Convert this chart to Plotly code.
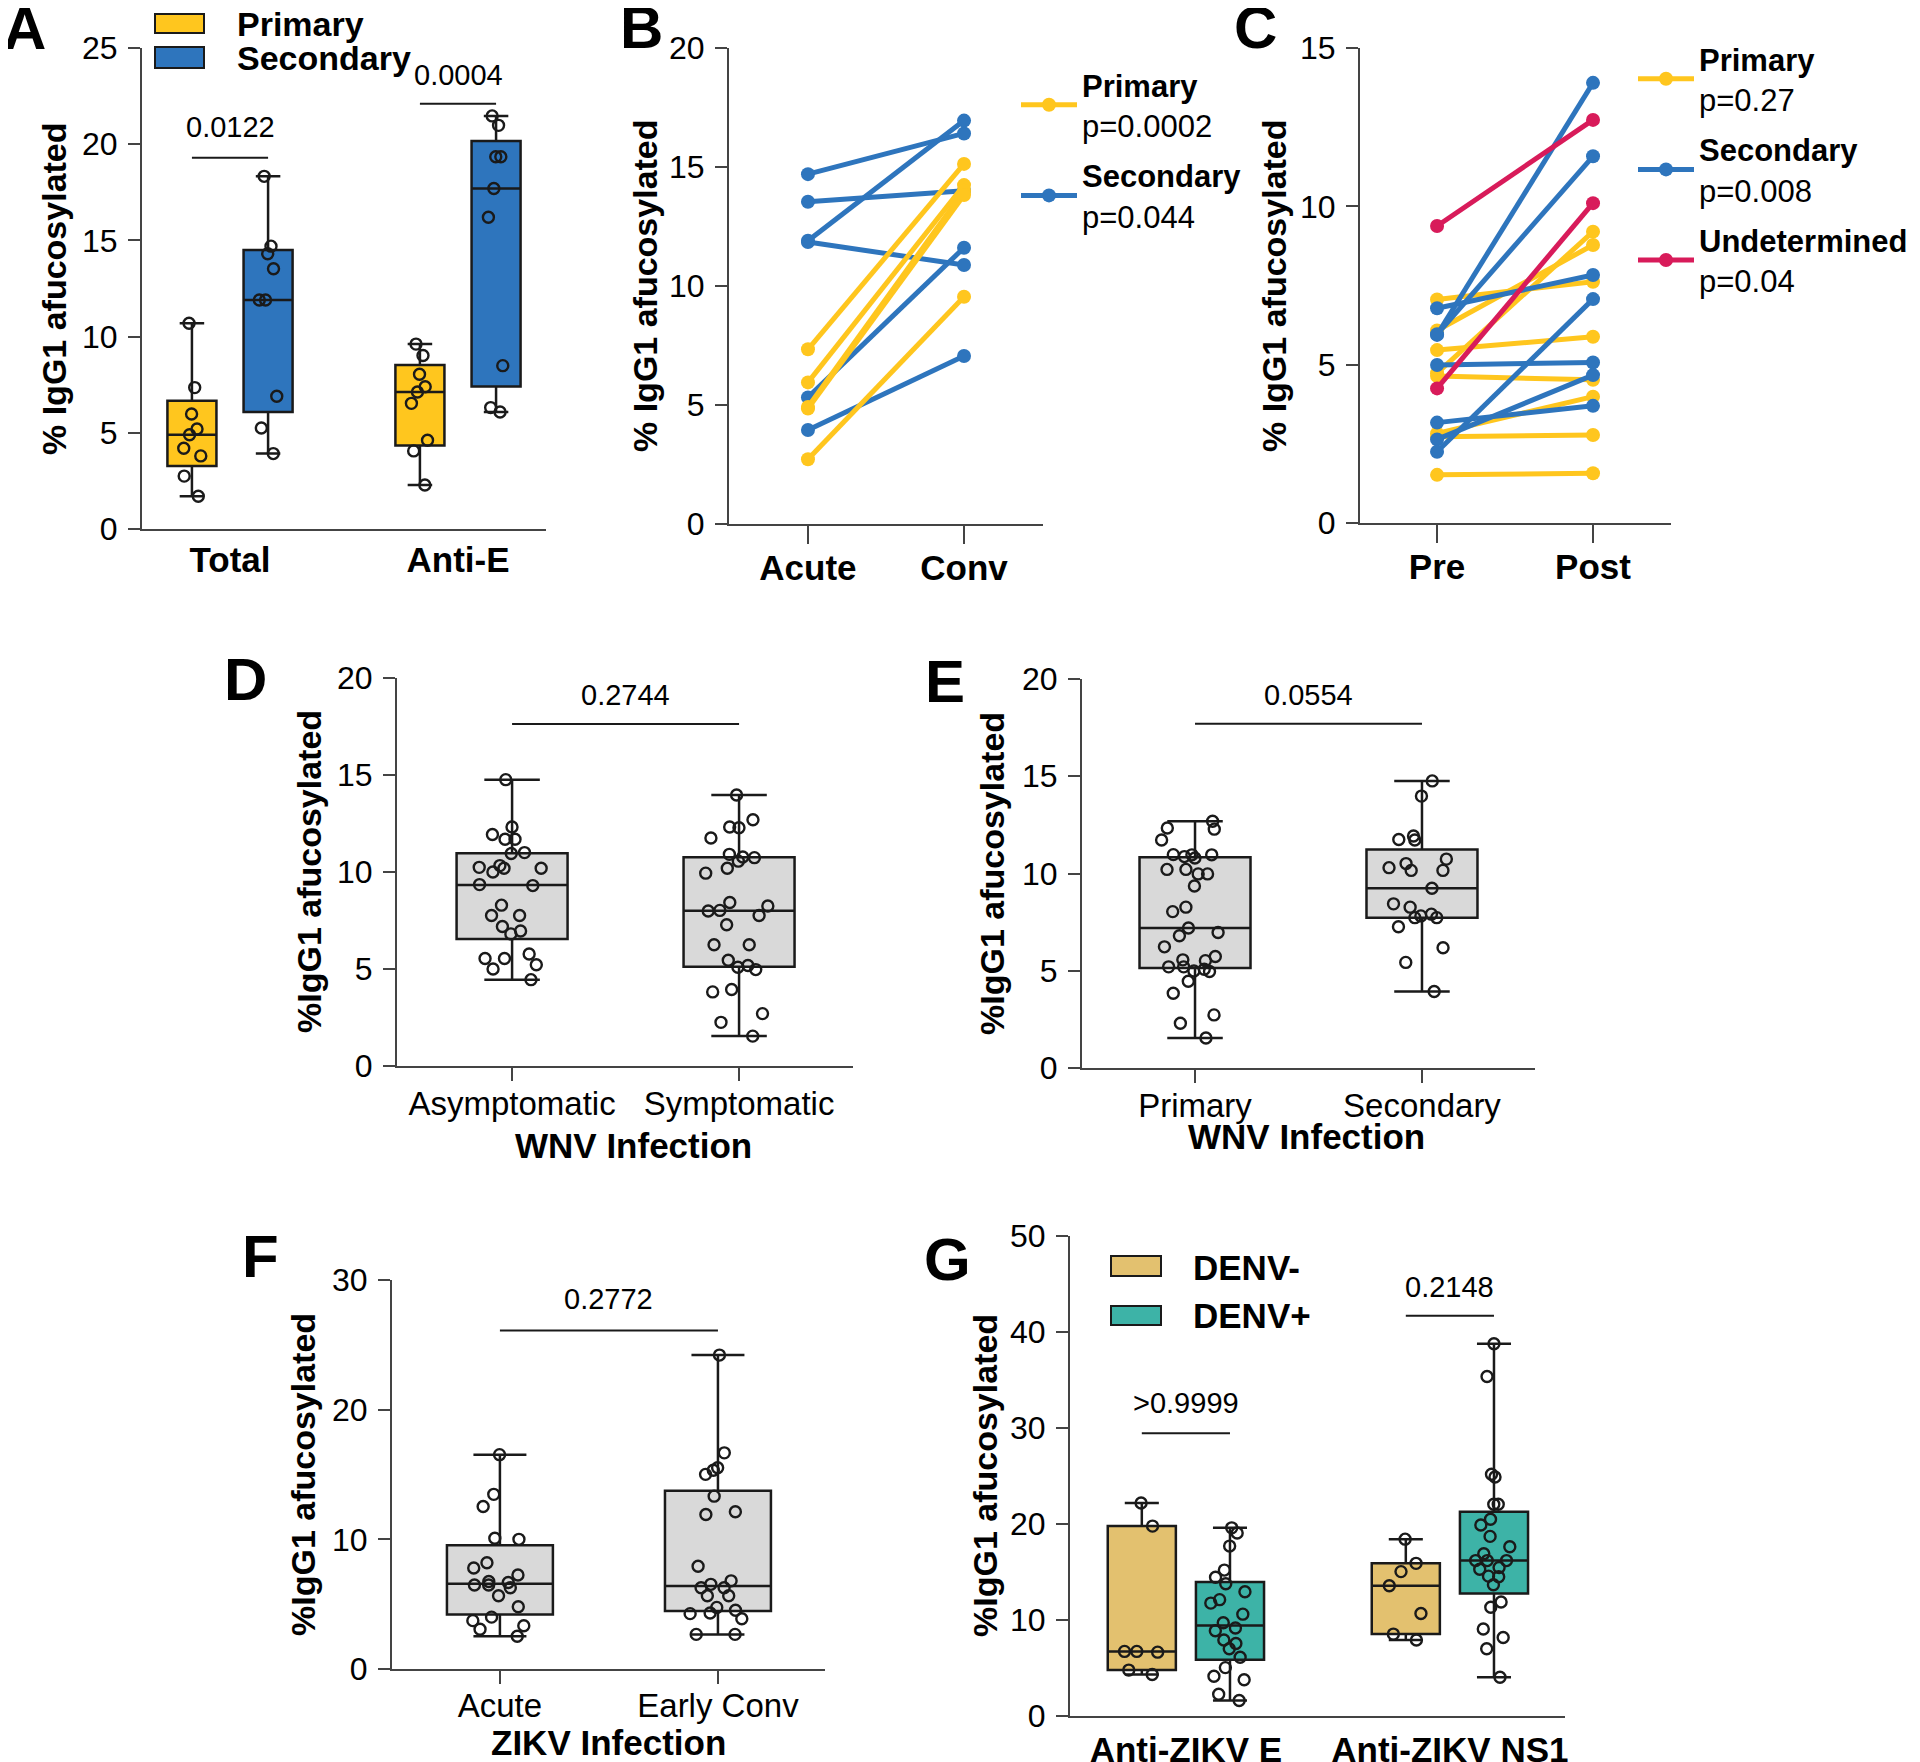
import numpy as np
import plotly.graph_objects as go

# ---------------- data ----------------
# A: % IgG1 afucosylated, primary vs secondary DENV
a_categories = ["Total", "Anti-E"]
a_groups = ["Primary", "Secondary"]
a_total_primary = [1.7, 2.75, 3.8, 4.2, 4.9, 5.2, 5.98, 7.35, 10.69]
a_total_secondary = [3.92, 5.25, 6.9, 11.9, 11.9, 13.53, 14.31, 14.7, 18.33]
a_antie_primary = [2.29, 4.06, 4.61, 6.53, 7.12, 7.39, 8.04, 9.02, 9.61]
a_antie_secondary = [6.08, 6.31, 8.49, 16.2, 17.7, 19.35, 19.35, 20.98, 21.47]
a_pvalues = ["0.0122", "0.0004"]

# B: paired acute / convalescent
b_times = ["Acute", "Conv"]
b_primary_acute = [7.34, 5.95, 4.92, 4.85, 2.72]
b_primary_conv = [15.13, 14.24, 14.0, 13.82, 9.55]
b_secondary_acute = [14.7, 13.54, 11.9, 11.85, 5.32, 3.95]
b_secondary_conv = [16.41, 14.0, 16.95, 10.88, 11.61, 7.06]
b_pvalues = ["p=0.0002", "p=0.044"]

# C: paired pre / post
c_times = ["Pre", "Post"]
c_primary_pre = [7.06, 6.08, 4.73, 5.46, 4.64, 2.83, 2.72, 1.52]
c_primary_post = [7.62, 8.78, 9.2, 5.88, 4.52, 3.99, 2.78, 1.57]
c_secondary_pre = [6.78, 5.94, 5.96, 4.99, 3.17, 2.64, 2.25]
c_secondary_post = [7.83, 13.9, 11.58, 5.07, 3.7, 4.67, 7.07]
c_undet_pre = [9.38, 4.25]
c_undet_post = [12.73, 10.1]
c_pvalues = ["p=0.27", "p=0.008", "p=0.04"]

# D: WNV asymptomatic / symptomatic
d_categories = ["Asymptomatic", "Symptomatic"]
d_asym = [14.76, 12.32, 11.93, 11.69, 11.69, 11.0, 10.95, 10.33, 10.19, 10.24, 10.19, 10.0, 9.3,
          9.35, 8.29, 7.76, 7.76, 7.19, 6.96, 6.81, 5.77, 5.54, 5.54, 5.22, 5.0, 4.45]
d_sym = [13.97, 12.69, 12.32, 12.28, 11.75, 10.91, 10.77, 10.74, 10.56, 10.19, 9.94, 8.43, 8.25, 8.02,
         7.99, 7.76, 7.28, 6.25, 6.25, 5.45, 5.18, 5.09, 4.97, 3.94, 3.82, 2.7, 2.25, 1.54]
d_pvalue = "0.2744"

# E: WNV primary / secondary
e_categories = ["Primary", "Secondary"]
e_primary = [12.69, 12.28, 12.34, 11.72, 10.96, 10.96, 10.8, 10.87, 10.97, 10.21, 9.98, 9.98, 10.21,
             9.36, 8.27, 8.04, 7.2, 6.8, 6.97, 6.23, 5.73, 5.56, 5.52, 5.08, 4.96, 5.2, 5.2, 4.99,
             4.46, 3.84, 2.73, 2.3, 1.54]
e_secondary = [14.76, 13.98, 11.93, 11.72, 11.75, 10.74, 10.51, 10.16, 10.16, 10.3, 9.24, 8.44, 8.27,
               7.91, 7.73, 7.82, 7.73, 7.26, 6.18, 5.43, 3.93]
e_pvalue = "0.0554"

# F: ZIKV acute / early convalescent
f_categories = ["Acute", "Early Conv"]
f_acute = [16.53, 13.47, 12.53, 10.0, 10.08, 8.19, 7.79, 7.25, 6.75, 6.67, 6.48, 6.48, 6.27, 5.65,
           4.8, 4.0, 3.73, 3.33, 3.07, 2.53]
f_early = [24.21, 16.67, 15.52, 15.33, 15.01, 13.33, 11.92, 12.13, 7.92, 6.53, 6.8, 6.27, 6.27, 5.65,
           5.65, 4.75, 4.53, 4.27, 4.32, 3.87, 2.67, 2.67]
f_pvalue = "0.2772"

# G: anti-ZIKV E / NS1, DENV- vs DENV+
g_categories = ["Anti-ZIKV E", "Anti-ZIKV NS1"]
g_groups = ["DENV-", "DENV+"]
g_e_neg = [22.19, 19.78, 6.73, 6.73, 6.65, 4.78, 4.32]
g_e_pos = [19.6, 19.06, 17.7, 15.2, 14.46, 13.78, 12.95, 12.12, 11.76, 10.61, 9.71, 9.17, 8.88, 7.91,
           7.55, 7.01, 6.12, 5.04, 4.14, 3.78, 2.27, 1.62]
g_ns1_neg = [18.42, 15.9, 15.04, 13.56, 10.68, 8.53, 7.91]
g_ns1_pos = [38.78, 35.36, 25.18, 24.89, 22.05, 22.05, 20.5, 19.9, 18.71, 17.63, 16.9, 16.19, 16.19,
             16.19, 15.47, 15.29, 14.57, 14.5, 13.67, 11.87, 11.33, 9.06, 8.17, 7.01, 4.03]
g_pvalues = [">0.9999", "0.2148"]

# ---------------- style ----------------
W, H = 1920, 1762
PAGE = 8  # default body margin of the html page
FONT = "Liberation Sans, Arial, sans-serif"
INK = "#1a1a1a"
AXIS = "#444444"
YELLOW = "#FFC61E"
BLUE = "#2E75BD"
RED = "#D81B5A"
GREY = "#D9D9D9"
TAN = "#E3C16F"
TEAL = "#3DB3A7"


def fx(x):
    return (x - PAGE) / W


def fy(y):
    return 1 - (y - PAGE) / H


fig = go.Figure()

# panel axes: (left px, right px, top px, bottom px, x range, y max, dtick)
panels = {
    1: (142, 546, 48, 529, [-0.386, 1.386], 25, 5),   # A
    2: (729, 1043, 48, 524, [-0.506, 1.506], 20, 5),  # B
    3: (1360, 1671, 48, 523, [-0.494, 1.5], 15, 5),   # C
    4: (397, 853, 678, 1066, [-0.507, 1.502], 20, 5), # D
    5: (1082, 1535, 679, 1068, [-0.498, 1.498], 20, 5),  # E
    6: (392, 825, 1280, 1669, [-0.495, 1.491], 30, 10),  # F
    7: (1070, 1565, 1236, 1716, [-0.439, 1.436], 50, 10),  # G
}


def ax(n):
    return ("x" if n == 1 else f"x{n}"), ("y" if n == 1 else f"y{n}")


def add_box(n, vals, pos, width, fill, jitter):
    xa, ya = ax(n)
    v = np.array(vals)
    q1, med, q3 = np.percentile(v, [25, 50, 75], method="weibull")
    fig.add_trace(go.Box(
        x=[pos], q1=[float(q1)], median=[float(med)], q3=[float(q3)],
        lowerfence=[float(v.min())], upperfence=[float(v.max())],
        width=width, fillcolor=fill, line=dict(color=INK, width=2.5), whiskerwidth=0.5,
        xaxis=xa, yaxis=ya, showlegend=False, hoverinfo="skip"))
    fig.add_trace(go.Box(
        y=vals, x0=pos, width=width, boxpoints="all", jitter=jitter, pointpos=0,
        fillcolor="rgba(0,0,0,0)", line=dict(color="rgba(0,0,0,0)", width=0), whiskerwidth=0,
        marker=dict(symbol="circle-open", size=11, color=INK, line=dict(width=2.4)),
        xaxis=xa, yaxis=ya, showlegend=False, hoverinfo="skip"))


def add_pairs(n, times, pre, post, color, name, rank, legend):
    xa, ya = ax(n)
    xs, ys = [], []
    for a, b in zip(pre, post):
        xs += [times[0], times[1], None]
        ys += [a, b, None]
    fig.add_trace(go.Scatter(
        x=xs, y=ys, mode="lines+markers", name=name, legendrank=rank, legendgroup=name,
        line=dict(color=color, width=5), marker=dict(color=color, size=14),
        xaxis=xa, yaxis=ya, legend=legend, hoverinfo="skip"))


# A
off = 0.167
for i, (prim, sec) in enumerate([(a_total_primary, a_total_secondary),
                                 (a_antie_primary, a_antie_secondary)]):
    add_box(1, prim, i - off, 0.215, YELLOW, 0.5)
    add_box(1, sec, i + off, 0.215, BLUE, 0.5)

# B
add_pairs(2, b_times, b_secondary_acute, b_secondary_conv, BLUE,
          f"<b>Secondary</b><br>{b_pvalues[1]}", 2, "legend")
add_pairs(2, b_times, b_primary_acute, b_primary_conv, YELLOW,
          f"<b>Primary</b><br>{b_pvalues[0]}", 1, "legend")

# C
add_pairs(3, c_times, c_primary_pre, c_primary_post, YELLOW,
          f"<b>Primary</b><br>{c_pvalues[0]}", 1, "legend2")
add_pairs(3, c_times, c_secondary_pre, c_secondary_post, BLUE,
          f"<b>Secondary</b><br>{c_pvalues[1]}", 2, "legend2")
add_pairs(3, c_times, c_undet_pre, c_undet_post, RED,
          f"<b>Undetermined</b><br>{c_pvalues[2]}", 3, "legend2")

# D, E, F
for n, groups, w in [(4, [d_asym, d_sym], 0.489), (5, [e_primary, e_secondary], 0.489),
                     (6, [f_acute, f_early], 0.486)]:
    for i, vals in enumerate(groups):
        add_box(n, vals, i, w, GREY, 0.7)

# G
goff = 0.167
for i, (neg, pos) in enumerate([(g_e_neg, g_e_pos), (g_ns1_neg, g_ns1_pos)]):
    add_box(7, neg, i - goff, 0.258, TAN, 0.6)
    add_box(7, pos, i + goff, 0.258, TEAL, 0.6)

# ---------------- axes ----------------
xcats = {1: a_categories, 2: b_times, 3: c_times, 4: d_categories, 5: e_categories,
         6: f_categories, 7: g_categories}
xstyle = {  # ticklen, bold, size, standoff
    1: (0, True, 35, -1), 2: (18, True, 35, -6), 3: (18, True, 35, -6),
    4: (13, False, 33, -6), 5: (13, False, 33, -6), 6: (13, False, 33, -7), 7: (0, True, 35, 2),
}
layout = {}
for n, (xl, xr, yt, yb, xrange, ymax, dtick) in panels.items():
    xname = "xaxis" if n == 1 else f"xaxis{n}"
    yname = "yaxis" if n == 1 else f"yaxis{n}"
    xa, ya = ax(n)
    tl, bold, size, standoff = xstyle[n]
    xdict = dict(
        domain=[fx(xl), fx(xr)], anchor=ya, range=xrange, showgrid=False, zeroline=False,
        showline=True, linecolor=AXIS, linewidth=2, automargin=False,
        ticks="outside" if tl else "", ticklen=tl, tickwidth=2, tickcolor=AXIS,
        ticklabelstandoff=standoff,
        tickfont=dict(family=FONT, size=size, color="black", weight="bold" if bold else "normal"),
    )
    if n in (2, 3):
        xdict.update(type="category", categoryorder="array", categoryarray=xcats[n])
    else:
        xdict.update(tickmode="array", tickvals=list(range(len(xcats[n]))), ticktext=xcats[n])
    layout[xname] = xdict
    layout[yname] = dict(
        domain=[fy(yb), fy(yt)], anchor=xa, range=[0, ymax], dtick=dtick, showgrid=False,
        zeroline=False, showline=True, linecolor=AXIS, linewidth=2, ticks="outside", ticklen=12,
        tickwidth=2, tickcolor=AXIS, ticklabelstandoff=4, automargin=False,
        tickfont=dict(family=FONT, size=32, color="black"),
    )

annotations = []
shapes = []


def text(x, y, s, size, bold=False, angle=0, xanchor="center", xref="paper", yref="paper"):
    annotations.append(dict(
        x=x, y=y, xref=xref, yref=yref, text=s, showarrow=False, textangle=angle,
        xanchor=xanchor, yanchor="middle",
        font=dict(family=FONT, size=size, color="black", weight="bold" if bold else "normal")))


# panel letters
for letter, (x, y) in zip("ABCDEFG", [(24, 28), (641, 27), (1255, 27), (245, 679), (945, 681),
                                      (260, 1256), (947, 1259)]):
    text(fx(x), fy(y), letter, 60, bold=True)

# y titles
for x, y, s in [(54, 289, "% IgG1 afucosylated"), (645, 286, "% IgG1 afucosylated"),
                (1274, 286, "% IgG1 afucosylated"), (309, 872, "%IgG1 afucosylated"),
                (992, 873, "%IgG1 afucosylated"), (303, 1475, "%IgG1 afucosylated"),
                (985, 1476, "%IgG1 afucosylated")]:
    text(fx(x), fy(y), s, 34, bold=True, angle=-90)

# x titles
text(fx(633), fy(1145), "WNV Infection", 35, bold=True)
text(fx(1306), fy(1136), "WNV Infection", 35, bold=True)
text(fx(608), fy(1742), "ZIKV Infection", 35, bold=True)


# significance bars (data coordinates)
def sig(n, x0, x1, ybar, ytext, label):
    xa, ya = ax(n)
    shapes.append(dict(type="line", xref=xa, yref=ya, x0=x0, x1=x1, y0=ybar, y1=ybar,
                       line=dict(color=INK, width=2)))
    text((x0 + x1) / 2, ytext, label, 29, xref=xa, yref=ya)


sig(1, -off, off, 19.3, 20.9, a_pvalues[0])
sig(1, 1 - off, 1 + off, 22.1, 23.6, a_pvalues[1])
sig(4, 0, 1, 17.63, 19.1, d_pvalue)
sig(5, 0, 1, 17.7, 19.2, e_pvalue)
sig(6, 0, 1, 26.1, 28.5, f_pvalue)
sig(7, -goff, goff, 29.45, 32.6, g_pvalues[0])
sig(7, 1 - goff, 1 + goff, 41.7, 44.7, g_pvalues[1])

# box legends for A and G
for (x0, y0, x1, y1), col in [((155, 14, 204, 33), YELLOW), ((155, 47, 204, 68), BLUE),
                              ((1111, 1256, 1161, 1276), TAN), ((1111, 1306, 1161, 1325), TEAL)]:
    shapes.append(dict(type="rect", xref="paper", yref="paper", x0=fx(x0), x1=fx(x1),
                       y0=fy(y1), y1=fy(y0), fillcolor=col, line=dict(color=INK, width=2)))
text(fx(235), fy(24), a_groups[0], 34, bold=True, xanchor="left")
text(fx(235), fy(58), a_groups[1], 34, bold=True, xanchor="left")
text(fx(1191), fy(1267), g_groups[0], 35, bold=True, xanchor="left")
text(fx(1191), fy(1315), g_groups[1], 35, bold=True, xanchor="left")

legend_common = dict(xanchor="left", yanchor="top", bgcolor="rgba(0,0,0,0)", borderwidth=0,
                     font=dict(family=FONT, size=31, color="black"), tracegroupgap=7,
                     itemwidth=56, valign="middle")

fig.update_layout(
    width=W, height=H, margin=dict(l=0, r=0, t=0, b=0, autoexpand=False),
    paper_bgcolor="white", plot_bgcolor="white", boxmode="overlay", showlegend=True,
    legend=dict(x=fx(1016), y=fy(58), **legend_common),
    legend2=dict(x=fx(1633), y=fy(32), **legend_common),
    annotations=annotations, shapes=shapes, **layout,
)

fig.write_html("out.html")
